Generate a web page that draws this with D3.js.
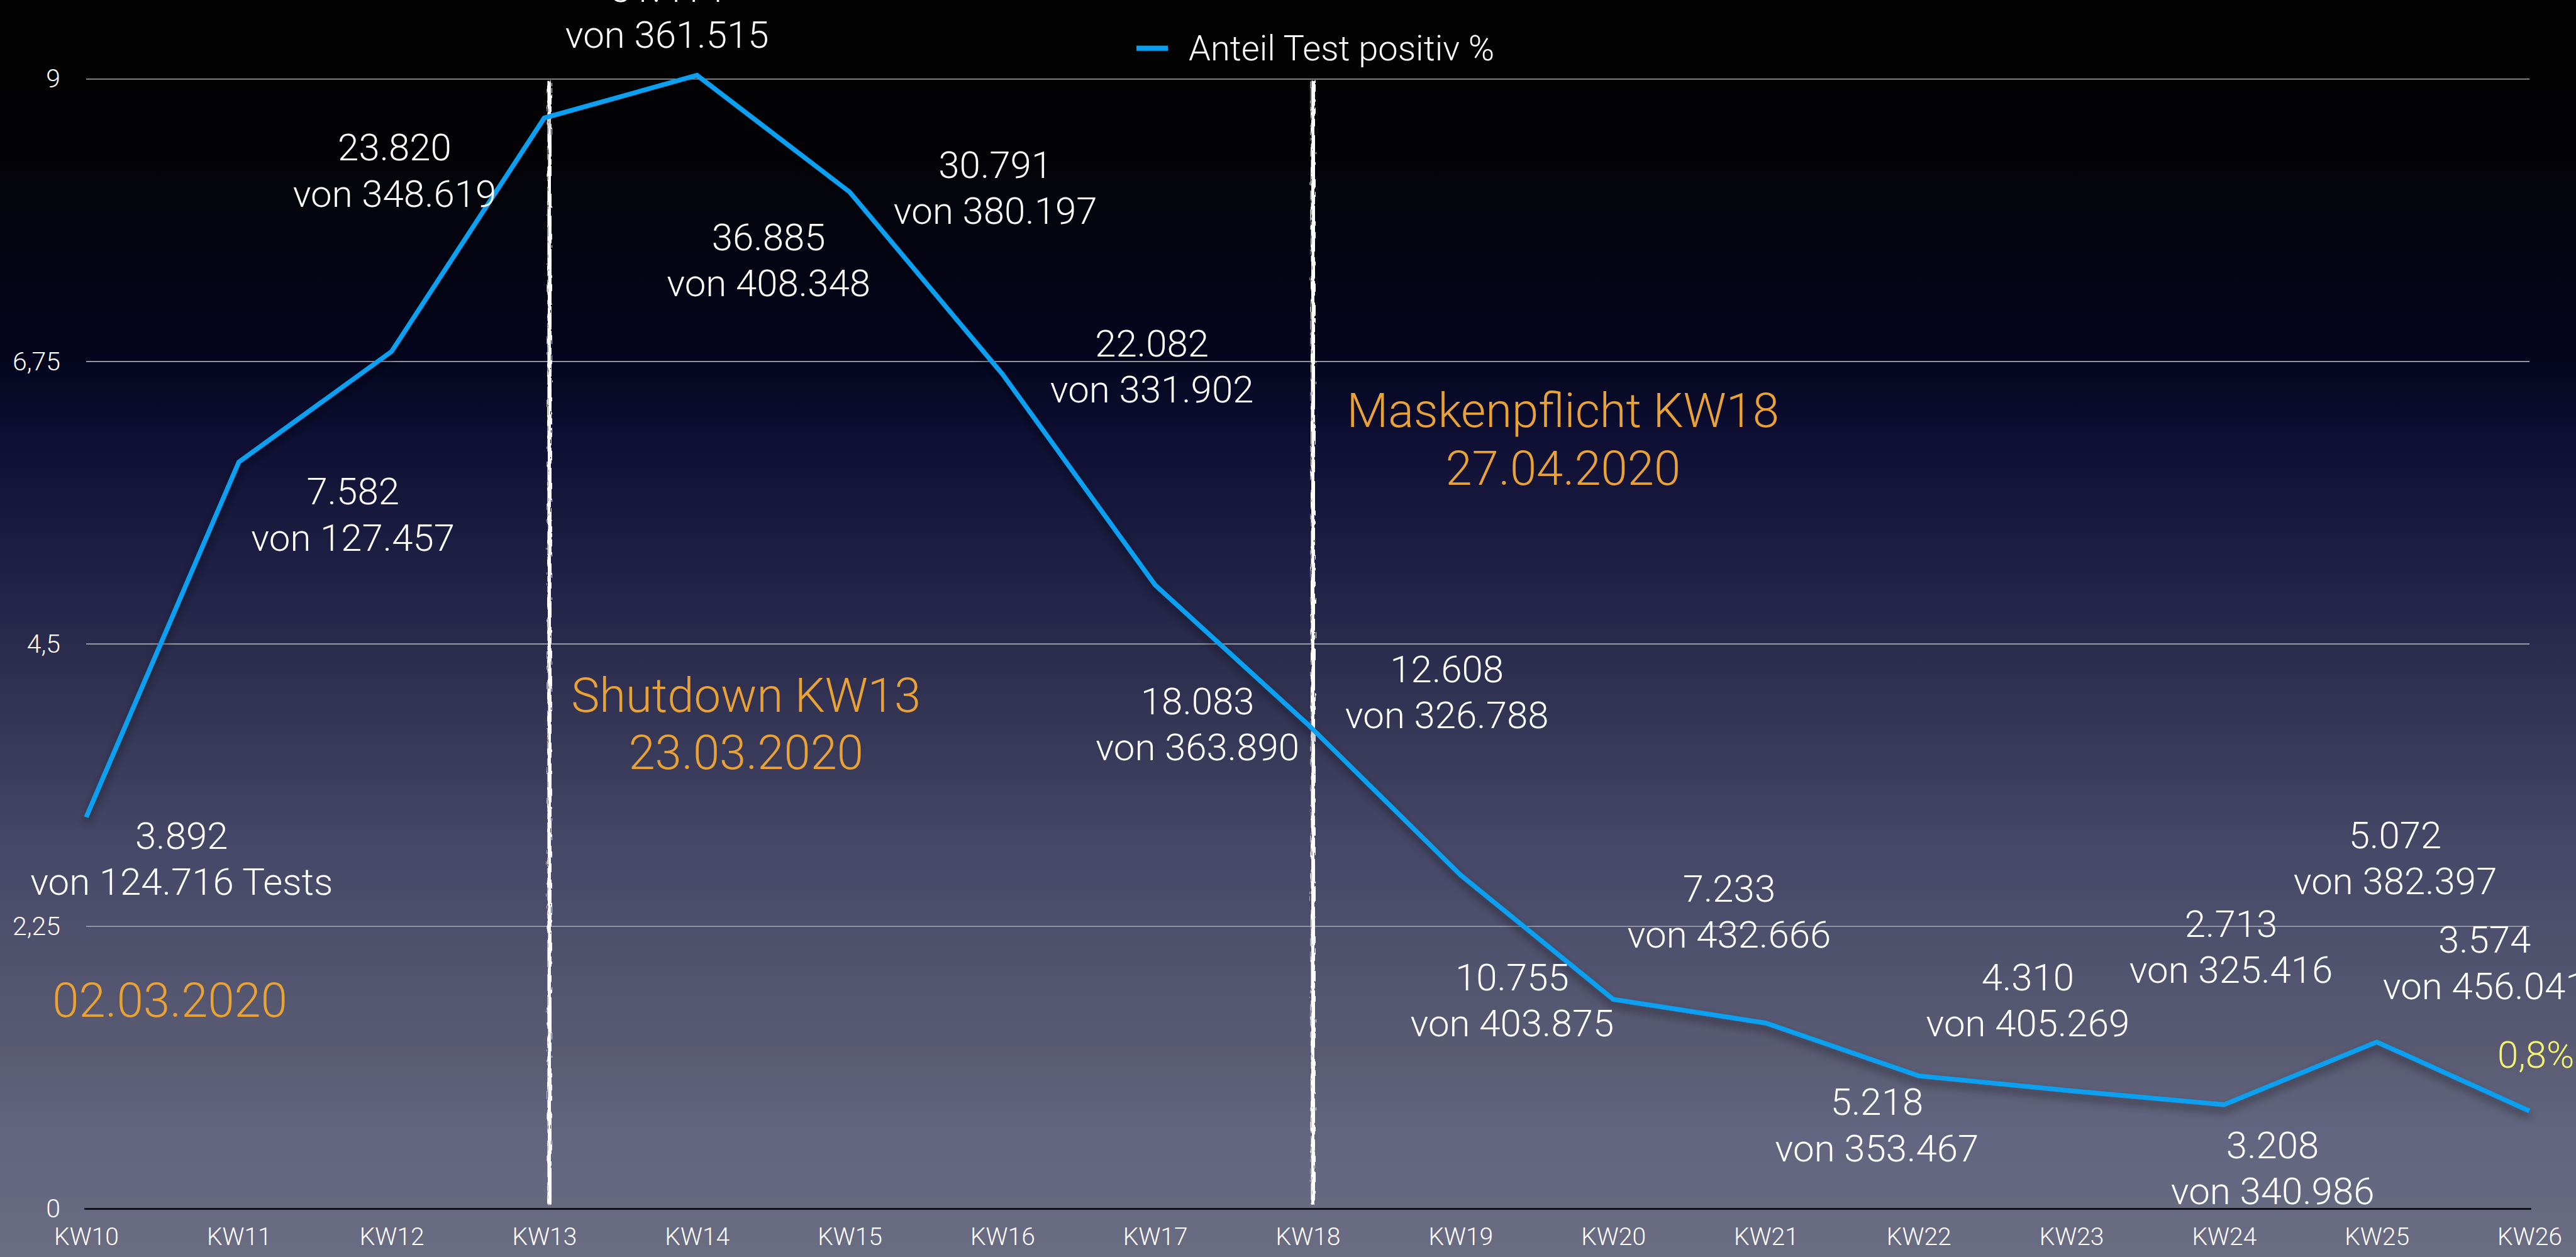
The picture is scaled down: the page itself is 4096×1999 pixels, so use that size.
<!DOCTYPE html>
<html lang="de">
<head>
<meta charset="utf-8">
<title>Anteil Test positiv %</title>
<script src="https://cdnjs.cloudflare.com/ajax/libs/d3/7.8.5/d3.min.js"></script>
<style>
  html, body { margin: 0; padding: 0; background: #000; overflow: hidden; }
  text { font-family: Roboto, "Helvetica Neue", "Liberation Sans", sans-serif; font-weight: 300; }
</style>
</head>
<body>
<script>
// data
var weeks = ["KW10","KW11","KW12","KW13","KW14","KW15","KW16","KW17","KW18",
             "KW19","KW20","KW21","KW22","KW23","KW24","KW25","KW26"];
var positivePct = [3.12, 5.95, 6.83, 8.69, 9.03, 8.10, 6.65, 4.97, 3.86,
                   2.66, 1.67, 1.48, 1.06, 0.94, 0.83, 1.33, 0.78];
var positives = ["3.892","7.582","23.820","31.414","36.885","30.791","22.082","18.083","12.608",
                 "10.755","7.233","5.218","4.310","3.208","2.713","5.072","3.574"];
var tests = ["124.716 Tests","127.457","348.619","361.515","408.348","380.197","331.902","363.890","326.788",
             "403.875","432.666","353.467","405.269","340.986","325.416","382.397","456.041"];
var yTicks = [0, 2.25, 4.5, 6.75, 9];
var seriesName = "Anteil Test positiv %";

// where each count label sits: [week index, value of first baseline]
var labelAt = [[0.625,2.869],[1.747,5.611],[2.020,8.351],[3.804,9.616],[4.469,7.636],[5.954,8.214],
               [6.979,6.792],[7.278,3.940],[8.911,4.197],[9.338,1.741],[10.759,2.448],[11.727,0.748],
               [12.715,1.741],[14.318,0.405],[14.046,2.166],[15.121,2.873],[15.706,2.039]];

// events
var events = [
  {week: "KW13", lines: ["Shutdown KW13", "23.03.2020"], at: [4.321, 3.960]},
  {week: "KW18", lines: ["Maskenpflicht KW18", "27.04.2020"], at: [9.671, 6.228]}
];
var startNote = {text: "02.03.2020", at: [0.548, 1.528]};
var lastNote = {text: "0,8%", at: [15.790, 1.124]};

var W = 4096, H = 1999;
var plotL = 137, plotR = 4022, plotT = 125.7, plotB = 1922.5;

var svg = d3.select("body").append("svg")
  .attr("width", W).attr("height", H);

var defs = svg.append("defs");
var grad = defs.append("linearGradient").attr("id", "bg")
  .attr("x1", 0).attr("y1", 0).attr("x2", 0).attr("y2", 1);
[[0,"#030303"],[0.12,"#030306"],[0.29,"#05061f"],[0.35,"#0e0f33"],[0.47,"#212347"],
 [0.51,"#2a2b4c"],[0.61,"#3b3c5b"],[0.67,"#464767"],[0.84,"#5a5b73"],[0.9,"#636580"],[1,"#6a6c82"]]
  .forEach(function(s) { grad.append("stop").attr("offset", s[0]).attr("stop-color", s[1]); });

var chalk = defs.append("filter").attr("id", "chalk")
  .attr("filterUnits", "userSpaceOnUse").attr("x", 0).attr("y", 0).attr("width", W).attr("height", H);
chalk.append("feTurbulence").attr("type", "fractalNoise").attr("baseFrequency", "0.9 0.06")
  .attr("numOctaves", 2).attr("seed", 4).attr("result", "n");
chalk.append("feDisplacementMap").attr("in", "SourceGraphic").attr("in2", "n")
  .attr("scale", 6).attr("xChannelSelector", "R").attr("yChannelSelector", "G");

var shadow = defs.append("filter").attr("id", "shadow")
  .attr("filterUnits", "userSpaceOnUse").attr("x", 0).attr("y", 0).attr("width", W).attr("height", H);
shadow.append("feDropShadow").attr("dx", 0).attr("dy", 8).attr("stdDeviation", 7)
  .attr("flood-color", "#000").attr("flood-opacity", 0.45);

svg.append("rect").attr("width", W).attr("height", H).attr("fill", "url(#bg)");

/* scales */
var x = d3.scalePoint().domain(weeks).range([plotL, plotR]).padding(0);
var xi = d3.scaleLinear().domain([0, weeks.length - 1]).range([plotL, plotR]);
var y = d3.scaleLinear().domain([0, 9]).range([plotB, plotT]);

// gridlines
svg.append("g").selectAll("line")
  .data(yTicks.filter(function(d) { return d > 0; }))
  .join("line")
  .attr("x1", plotL).attr("x2", plotR)
  .attr("y1", function(d) { return y(d); }).attr("y2", function(d) { return y(d); })
  .attr("stroke", "#a8a8b0").attr("stroke-width", 1.6);

// y axis labels
var yAxis = svg.append("g").attr("transform", "translate(" + plotL + ",0)")
  .call(d3.axisLeft(y).tickValues(yTicks).tickSize(0).tickPadding(41)
    .tickFormat(function(d) { return String(d).replace(".", ","); }));
yAxis.select(".domain").remove();
yAxis.attr("font-family", null);
yAxis.selectAll("text").attr("fill", "#fff").attr("font-size", 41);

// x axis
var xAxis = svg.append("g").attr("transform", "translate(0," + plotB + ")")
  .call(d3.axisBottom(x).tickSize(0).tickPadding(30));
xAxis.select(".domain").remove();
xAxis.attr("font-family", null);
xAxis.selectAll("text").attr("fill", "#fff").attr("font-size", 39);

svg.append("line")
  .attr("x1", plotL - 3).attr("x2", plotR + 3)
  .attr("y1", y(0)).attr("y2", y(0))
  .attr("stroke", "#000").attr("stroke-width", 2.6);

// event markers (chalk lines)
svg.append("g").attr("filter", "url(#chalk)")
  .selectAll("rect").data(events).join("rect")
  .attr("x", function(d) { return x(d.week) + 5; })
  .attr("y", plotT + 3)
  .attr("width", 6.5)
  .attr("height", plotB - plotT - 10)
  .attr("fill", "#fff");

// the series line
var line = d3.line()
  .x(function(d, i) { return x(weeks[i]); })
  .y(function(d) { return y(d); });

svg.append("path")
  .datum(positivePct)
  .attr("d", line)
  .attr("fill", "none")
  .attr("stroke", "#079ff0")
  .attr("stroke-width", 7.5)
  .attr("stroke-linejoin", "miter")
  .attr("filter", "url(#shadow)");

// count labels
var lab = svg.append("g").selectAll("text")
  .data(weeks).join("text")
  .attr("text-anchor", "middle")
  .attr("fill", "#fff")
  .attr("font-size", 60)
  .attr("transform", function(d, i) {
    return "translate(" + xi(labelAt[i][0]) + "," + y(labelAt[i][1]) + ")";
  });
lab.append("tspan").attr("x", 0).attr("y", 0)
  .text(function(d, i) { return positives[i]; });
lab.append("tspan").attr("x", 0).attr("y", 73.4)
  .text(function(d, i) { return "von " + tests[i]; });

// event notes
var ev = svg.append("g").selectAll("text")
  .data(events).join("text")
  .attr("text-anchor", "middle")
  .attr("fill", "#e9a233")
  .attr("font-size", 76)
  .attr("transform", function(d) { return "translate(" + xi(d.at[0]) + "," + y(d.at[1]) + ")"; });
ev.selectAll("tspan").data(function(d) { return d.lines; }).join("tspan")
  .attr("x", 0).attr("y", function(d, i) { return i * 91.4; })
  .text(function(d) { return d; });

svg.append("text")
  .attr("x", xi(startNote.at[0])).attr("y", y(startNote.at[1]))
  .attr("text-anchor", "middle")
  .attr("fill", "#e9a233").attr("font-size", 76)
  .text(startNote.text);

svg.append("text")
  .attr("x", xi(lastNote.at[0])).attr("y", y(lastNote.at[1]))
  .attr("fill", "#f4f372").attr("font-size", 60)
  .text(lastNote.text);

// legend
var legend = svg.append("g").attr("transform", "translate(1807,0)");
legend.append("rect").attr("x", 0).attr("y", 72.6).attr("width", 50).attr("height", 8.2)
  .attr("fill", "#079ff0");
legend.append("text").attr("x", 83).attr("y", 96)
  .attr("fill", "#fff").attr("font-size", 56)
  .text(seriesName);
</script>
</body>
</html>
